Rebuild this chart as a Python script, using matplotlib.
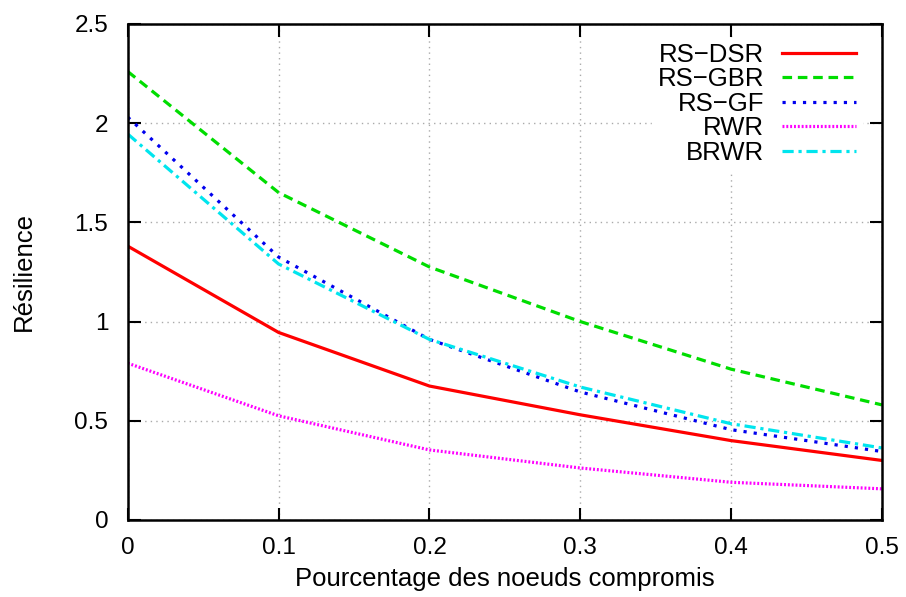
import numpy as np
import matplotlib.pyplot as plt

plt.rcParams['font.family'] = ['Liberation Sans', 'DejaVu Sans']

# pourcentage des noeuds compromis
x = [0, 0.1, 0.2, 0.3, 0.4, 0.5]

rs_dsr = [1.38, 0.945, 0.675, 0.53, 0.40, 0.30]
rs_gbr = [2.26, 1.65, 1.275, 1.0, 0.76, 0.58]
rs_gf = [2.03, 1.325, 0.91, 0.645, 0.455, 0.345]
rwr = [0.79, 0.525, 0.353, 0.262, 0.19, 0.157]
brwr = [1.945, 1.29, 0.91, 0.67, 0.485, 0.363]

fig = plt.figure(figsize=(9.06, 5.97), dpi=100)
ax = fig.add_axes([0.141, 0.129, 0.8325, 0.831])

lw = 2.3
ax.plot(x, rs_dsr, color='#ff0000', lw=lw, ls='-', label='RS\u2212DSR')
ax.plot(x, rs_gbr, color='#00dd00', lw=lw, ls=(0, (3, 1.8)), label='RS\u2212GBR')
ax.plot(x, rs_gf, color='#0000ee', lw=lw, ls=(0, (1, 2.2)), label='RS\u2212GF')
ax.plot(x, rwr, color='#ff00ff', lw=lw, ls=(0, (0.6, 0.6)), label='RWR')
ax.plot(x, brwr, color='#00e5ee', lw=lw, ls=(0, (3.5, 1.5, 1, 1.5)), label='BRWR')

ax.set_xlim(0, 0.5)
ax.set_ylim(0, 2.5)
ax.set_xticks([0, 0.1, 0.2, 0.3, 0.4, 0.5])
ax.set_xticklabels(['0', '0.1', '0.2', '0.3', '0.4', '0.5'])
ax.set_yticks([0, 0.5, 1, 1.5, 2, 2.5])
ax.set_yticklabels(['0', '0.5', '1', '1.5', '2', '2.5'])

ax.grid(True, color='#aaaaaa', ls=(0, (1, 3)), lw=1)
ax.tick_params(direction='in', length=9, width=1.5, top=True, right=True,
               labelsize=17.5, colors='black')
ax.tick_params(axis='y', pad=14)
ax.tick_params(axis='x', pad=12)
for s in ax.spines.values():
    s.set_linewidth(1.8)

ax.set_xlabel('Pourcentage des noeuds compromis', fontsize=18.5, labelpad=6)
ax.set_ylabel('Résilience', fontsize=18.5, labelpad=28)

leg = ax.legend(loc='upper right', fontsize=18.5, frameon=True, fancybox=False,
                markerfirst=False, handlelength=2.9, labelspacing=0.02,
                borderpad=0.2, handletextpad=0.7, bbox_to_anchor=(0.99, 0.998))
leg.get_frame().set_edgecolor('white')
leg.get_frame().set_alpha(1)
for t in leg.get_texts():
    t.set_ha('right')
leg._legend_box.align = 'right'

fig.savefig('out.png', dpi=100)
